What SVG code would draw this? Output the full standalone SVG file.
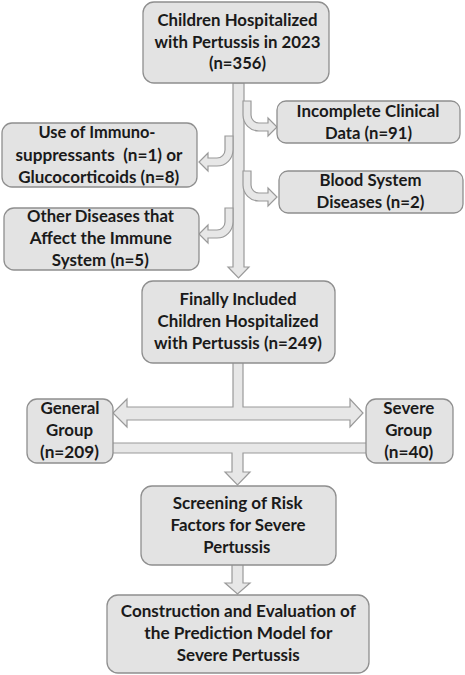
<svg xmlns="http://www.w3.org/2000/svg" width="465" height="675" viewBox="0 0 465 675">
<style>
.box{fill:#e3e3e3;stroke:#8f8f8f;stroke-width:1.3}
.arr{fill:#e7e7e7;stroke:#9a9a9a;stroke-width:1.2;stroke-linejoin:miter}
text{font-family:Lato,"Liberation Sans",sans-serif;font-weight:bold;font-size:17px;fill:#1a1a1a;text-anchor:middle}
</style>
<rect width="465" height="675" fill="#ffffff"/>
<g id="connectors">
<path class="arr" d="M233,83 V267 H228 L238.5,278 L249,267 H244 V83 Z"/>
<path class="arr" d="M243,101 H251 V115 A8,8 0 0 0 259,123 H268 V118 L277,127 L268,136 V131 H259 A16,16 0 0 1 243,115 Z"/>
<path class="arr" d="M243,171 H251 V185 A8,8 0 0 0 259,193 H268 V188 L277,197 L268,206 V201 H259 A16,16 0 0 1 243,185 Z"/>
<path class="arr" d="M233,136 H225 V150 A8,8 0 0 1 217,158 H208 V153 L199,162 L208,171 V166 H217 A16,16 0 0 0 233,150 Z"/>
<path class="arr" d="M233,208 H225 V222 A8,8 0 0 1 217,230 H208 V225 L199,234 L208,243 V238 H217 A16,16 0 0 0 233,222 Z"/>
<path class="arr" d="M233,362 H243 V407 H350 V399 L363,413 L350,427 V420 H127 V427 L113,413 L127,399 V407 H233 Z"/>
<path class="arr" d="M110,443 H368 V453 H243 V472 H250 L237.5,485 L225,472 H232 V453 H110 Z"/>
<path class="arr" d="M232,564 H243 V583 H250 L237.5,594 L225,583 H232 Z"/>
</g>
<g id="n1"><rect class="box" x="143" y="2" width="186" height="81" rx="11"/>
<text x="237.5" y="26" textLength="160" lengthAdjust="spacingAndGlyphs">Children Hospitalized</text>
<text x="237.5" y="48" textLength="166" lengthAdjust="spacingAndGlyphs">with Pertussis in 2023</text>
<text x="237.5" y="69" textLength="57" lengthAdjust="spacingAndGlyphs">(n=356)</text></g>
<g id="n2"><rect class="box" x="277" y="101" width="183" height="42" rx="9"/>
<text x="368" y="117" textLength="143" lengthAdjust="spacingAndGlyphs">Incomplete Clinical</text>
<text x="368.5" y="139" textLength="87" lengthAdjust="spacingAndGlyphs">Data (n=91)</text></g>
<g id="n3"><rect class="box" x="2" y="123" width="195" height="64" rx="10"/>
<text x="97" y="138" textLength="117" lengthAdjust="spacingAndGlyphs">Use of Immuno-</text>
<text x="99" y="161" textLength="167" lengthAdjust="spacingAndGlyphs" xml:space="preserve">suppressants  (n=1) or</text>
<text x="98.7" y="183" textLength="161" lengthAdjust="spacingAndGlyphs">Glucocorticoids (n=8)</text></g>
<g id="n4"><rect class="box" x="279" y="171" width="184" height="42" rx="9"/>
<text x="370.5" y="186" textLength="102" lengthAdjust="spacingAndGlyphs">Blood System</text>
<text x="370.5" y="208" textLength="108" lengthAdjust="spacingAndGlyphs">Diseases (n=2)</text></g>
<g id="n5"><rect class="box" x="4" y="208" width="195" height="62" rx="10"/>
<text x="100.5" y="222" textLength="147" lengthAdjust="spacingAndGlyphs">Other Diseases that</text>
<text x="100.8" y="244" textLength="142" lengthAdjust="spacingAndGlyphs">Affect the Immune</text>
<text x="100.3" y="266" textLength="97" lengthAdjust="spacingAndGlyphs">System (n=5)</text></g>
<g id="n6"><rect class="box" x="142" y="281" width="193" height="82" rx="11"/>
<text x="238" y="305" textLength="117" lengthAdjust="spacingAndGlyphs">Finally Included</text>
<text x="238" y="327" textLength="161" lengthAdjust="spacingAndGlyphs">Children Hospitalized</text>
<text x="238" y="349" textLength="168" lengthAdjust="spacingAndGlyphs">with Pertussis (n=249)</text></g>
<g id="n7"><rect class="box" x="27" y="399" width="86" height="64" rx="10"/>
<text x="70" y="414" textLength="59" lengthAdjust="spacingAndGlyphs">General</text>
<text x="69.5" y="436" textLength="47" lengthAdjust="spacingAndGlyphs">Group</text>
<text x="69.5" y="458" textLength="59" lengthAdjust="spacingAndGlyphs">(n=209)</text></g>
<g id="n8"><rect class="box" x="366" y="399" width="87" height="64" rx="10"/>
<text x="408.8" y="414" textLength="51" lengthAdjust="spacingAndGlyphs">Severe</text>
<text x="408.7" y="436" textLength="47" lengthAdjust="spacingAndGlyphs">Group</text>
<text x="408.7" y="458" textLength="49" lengthAdjust="spacingAndGlyphs">(n=40)</text></g>
<g id="n9"><rect class="box" x="141" y="486" width="195" height="79" rx="11"/>
<text x="237.7" y="509" textLength="130" lengthAdjust="spacingAndGlyphs">Screening of Risk</text>
<text x="238" y="531" textLength="135" lengthAdjust="spacingAndGlyphs">Factors for Severe</text>
<text x="236.8" y="553" textLength="67" lengthAdjust="spacingAndGlyphs">Pertussis</text></g>
<g id="n10"><rect class="box" x="107" y="595" width="262" height="78" rx="11"/>
<text x="238.3" y="617" textLength="235" lengthAdjust="spacingAndGlyphs">Construction and Evaluation of</text>
<text x="238.3" y="639" textLength="188" lengthAdjust="spacingAndGlyphs">the Prediction Model for</text>
<text x="238.3" y="661" textLength="123" lengthAdjust="spacingAndGlyphs">Severe Pertussis</text></g>
</svg>
